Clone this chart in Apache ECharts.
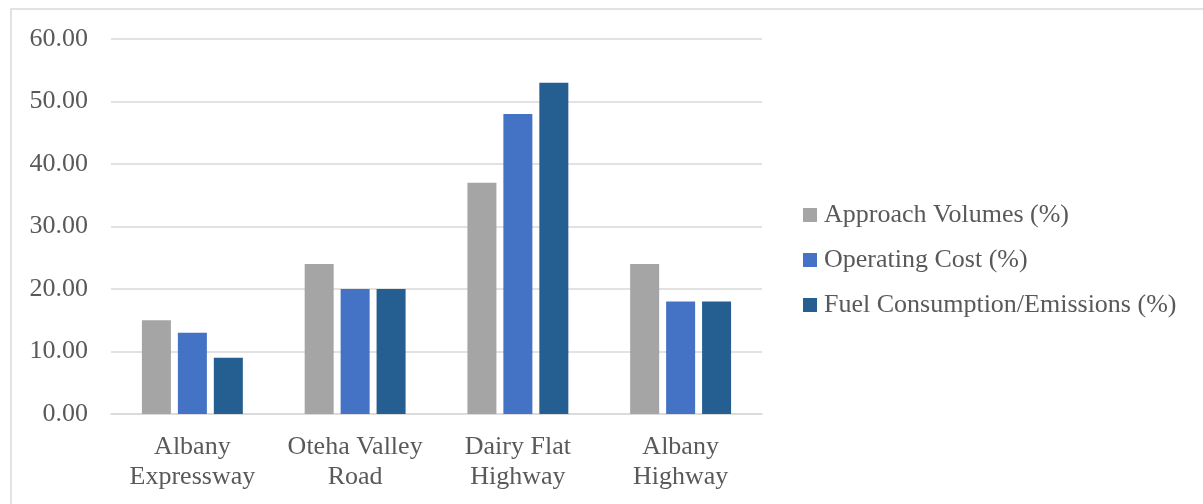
<!DOCTYPE html>
<html>
<head>
<meta charset="utf-8">
<script src="https://cdn.jsdelivr.net/npm/echarts@6/dist/echarts.min.js"></script>
<style>
  html, body { margin: 0; padding: 0; background: #ffffff; }
  #chart { width: 1203px; height: 504px; }
</style>
</head>
<body>
<div id="chart"></div>
<script>
// Road sections compared
const categories = ['Albany\nExpressway', 'Oteha Valley\nRoad', 'Dairy Flat\nHighway', 'Albany\nHighway'];

// Percentage values for each measure
const approachVolumes = [15, 24, 37, 24];
const operatingCost = [13, 20, 48, 18];
const fuelEmissions = [9, 20, 53, 18];

const seriesNames = ['Approach Volumes (%)', 'Operating Cost (%)', 'Fuel Consumption/Emissions (%)'];
const seriesColors = ['#A5A5A5', '#4472C4', '#255E91'];

const textColor = '#595959';
const fontFamily = '"Liberation Serif", "Times New Roman", serif';
const fontSize = 26;

const chart = echarts.init(document.getElementById('chart'), null, { renderer: 'canvas' });

const seriesData = [approachVolumes, operatingCost, fuelEmissions];

chart.setOption({
  animation: false,
  backgroundColor: '#ffffff',
  textStyle: { fontFamily: fontFamily, color: textColor },
  graphic: [{
    type: 'rect',
    shape: { x: 11, y: 9, width: 1400, height: 700 },
    style: { fill: 'none', stroke: '#d9d9d9', lineWidth: 1.5 },
    z: -10,
    silent: true
  }],
  grid: { left: 111, right: 441, top: 39, bottom: 90, containLabel: false },
  legend: {
    orient: 'vertical',
    left: 803,
    top: 200,
    padding: 0,
    itemWidth: 14,
    itemHeight: 14,
    itemGap: 15,
    icon: 'rect',
    data: seriesNames,
    textStyle: { fontFamily: fontFamily, fontSize: fontSize, color: textColor, lineHeight: 30, padding: [0, 0, 0, 2] }
  },
  xAxis: {
    type: 'category',
    data: categories,
    axisLine: { lineStyle: { color: '#d9d9d9', width: 1.5 } },
    axisTick: { show: false },
    axisLabel: {
      fontFamily: fontFamily,
      fontSize: fontSize,
      color: textColor,
      lineHeight: 30,
      margin: 18,
      interval: 0
    }
  },
  yAxis: {
    type: 'value',
    min: 0,
    max: 60,
    interval: 10,
    axisLine: { show: false },
    axisTick: { show: false },
    splitLine: { lineStyle: { color: '#d9d9d9', width: 1.5 } },
    axisLabel: {
      fontFamily: fontFamily,
      fontSize: fontSize,
      color: textColor,
      margin: 23,
      formatter: v => v.toFixed(2)
    }
  },
  series: seriesNames.map((name, i) => ({
    name: name,
    type: 'bar',
    data: seriesData[i],
    barWidth: 29,
    barGap: '24%',
    itemStyle: { color: seriesColors[i] }
  }))
});
</script>
</body>
</html>
